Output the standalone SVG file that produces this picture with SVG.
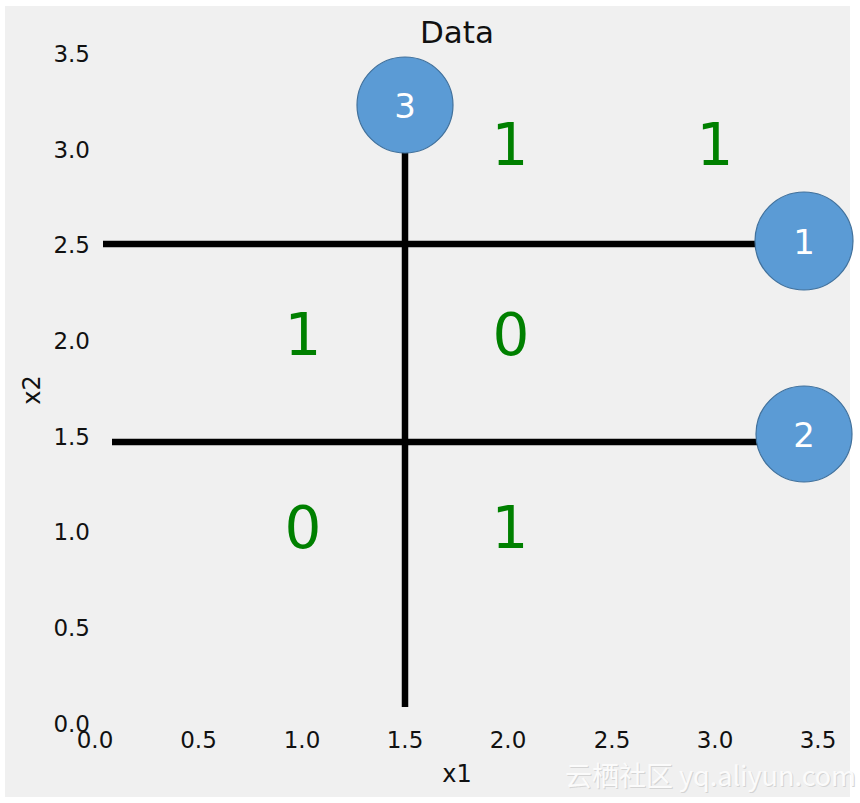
<svg xmlns="http://www.w3.org/2000/svg" width="860" height="803" viewBox="0 0 860 803">
<style>
  .tick { font-family: "DejaVu Sans", sans-serif; font-size: 23px; fill: #111; }
  .ytick { text-anchor: end; }
  .xtick { text-anchor: middle; }
  .lab { font-family: "DejaVu Sans", sans-serif; font-size: 24px; fill: #111; text-anchor: middle; }
  .cls { font-family: "DejaVu Sans", sans-serif; font-size: 58px; fill: #008000; text-anchor: middle; }
  .node circle { fill: #5b9bd5; stroke: #41719c; stroke-width: 1.2; }
  .node text { font-family: "DejaVu Sans", "Open Sans", sans-serif; font-size: 34px; fill: #ffffff; text-anchor: middle; }
  .split { stroke: #000; stroke-width: 6.5; fill: none; }
  .wm { font-family: "Noto Sans CJK SC", "DejaVu Sans", sans-serif; font-size: 27px; }
</style>
<rect x="0" y="0" width="860" height="803" fill="#ffffff"/>
<rect x="5" y="6" width="845" height="791" fill="#f0f0f0"/>

<text x="457" y="43" class="lab" style="font-size:31px">Data</text>

<g id="y-ticks" class="tick ytick">
  <text x="90" y="62">3.5</text>
  <text x="90" y="158">3.0</text>
  <text x="90" y="253">2.5</text>
  <text x="90" y="349">2.0</text>
  <text x="90" y="445">1.5</text>
  <text x="90" y="540">1.0</text>
  <text x="90" y="636">0.5</text>
  <text x="90" y="732">0.0</text>
</g>
<g id="x-ticks" class="tick xtick">
  <text x="95" y="748">0.0</text>
  <text x="198.5" y="748">0.5</text>
  <text x="302" y="748">1.0</text>
  <text x="405" y="748">1.5</text>
  <text x="508" y="748">2.0</text>
  <text x="612" y="748">2.5</text>
  <text x="715" y="748">3.0</text>
  <text x="818" y="748">3.5</text>
</g>
<text x="457" y="782" class="lab">x1</text>
<text transform="translate(40,390) rotate(-90)" x="0" y="0" class="lab">x2</text>

<g id="connectors">
  <line class="split" x1="103" y1="244" x2="800" y2="244"/>
  <line class="split" x1="112" y1="442" x2="800" y2="442"/>
  <line class="split" x1="405" y1="110" x2="405" y2="707"/>
</g>

<g id="leaves" class="cls">
  <text x="510" y="165">1</text>
  <text x="715" y="165">1</text>
  <text x="303" y="355">1</text>
  <text x="511" y="355">0</text>
  <text x="303" y="548">0</text>
  <text x="510" y="548">1</text>
</g>

<g id="node-3" class="node">
  <circle cx="405" cy="105" r="48"/>
  <text x="405" y="118">3</text>
</g>
<g id="node-1" class="node">
  <circle cx="804" cy="241" r="49"/>
  <text x="804" y="254">1</text>
</g>
<g id="node-2" class="node">
  <circle cx="804" cy="434" r="48"/>
  <text x="804" y="447">2</text>
</g>

<g id="watermark" class="wm">
  <text x="566" y="787" fill="#d4d4d4">云栖社区 yq.aliyun.com</text>
  <text x="565" y="786" fill="#fbfbfb">云栖社区 yq.aliyun.com</text>
</g>
</svg>
